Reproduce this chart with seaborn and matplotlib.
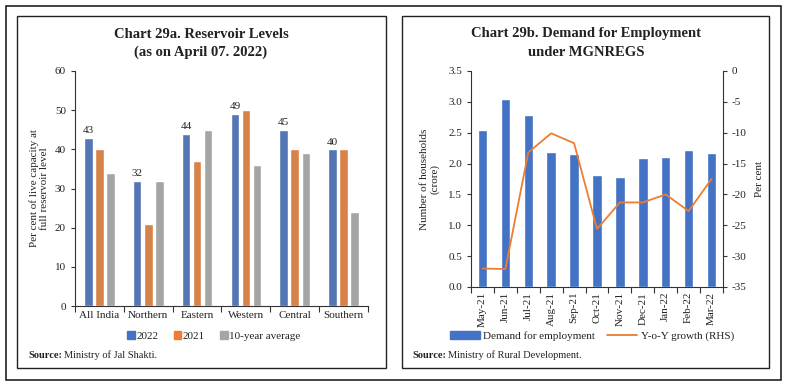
import numpy as np
import pandas as pd
import matplotlib
matplotlib.use("Agg")
import matplotlib.pyplot as plt
from matplotlib.patches import Rectangle, Patch
from matplotlib.lines import Line2D
import seaborn as sns

sns.set_theme(style="ticks")
plt.rcParams['font.family'] = ['Liberation Serif', 'DejaVu Serif']
plt.rcParams['axes.unicode_minus'] = False

# chart 29a data
regions = ["All India", "Northern", "Eastern", "Western", "Central", "Southern"]
lvl_2022 = [43, 32, 44, 49, 45, 40]
lvl_2021 = [40, 21, 37, 50, 40, 40]
lvl_10yr = [34, 32, 45, 36, 39, 24]
series_names = ["2022", "2021", "10-year average"]

# chart 29b data
months = ["May-21", "Jun-21", "Jul-21", "Aug-21", "Sep-21", "Oct-21",
          "Nov-21", "Dec-21", "Jan-22", "Feb-22", "Mar-22"]
demand = [2.55, 3.05, 2.78, 2.19, 2.16, 1.81, 1.79, 2.09, 2.11, 2.22, 2.17]
yoy = [-32.0, -32.1, -13.2, -10.1, -11.7, -25.6, -21.3, -21.3, -20.0, -22.7, -17.5]

BLUE = "#4472C4"
ORANGE = "#ED7D31"
GREY = "#A5A5A5"
TXT = "#222222"

fig = plt.figure(figsize=(7.87, 3.86), dpi=100)
W, H = 787, 386

def fx(px):
    return px / W

def fy(py):
    return 1 - py / H

# frames
fig.patches.append(Rectangle((fx(6), fy(380)), fx(775), (374) / H, transform=fig.transFigure,
                             fill=False, lw=1.2, ec="#222222"))
fig.patches.append(Rectangle((fx(17), fy(368)), fx(369), (352) / H, transform=fig.transFigure,
                             fill=False, lw=1.0, ec="#222222"))
fig.patches.append(Rectangle((fx(402), fy(368)), fx(367), (352) / H, transform=fig.transFigure,
                             fill=False, lw=1.0, ec="#222222"))

# ---- left chart ----
df = pd.DataFrame({
    "region": regions * 3,
    "series": [series_names[0]] * 6 + [series_names[1]] * 6 + [series_names[2]] * 6,
    "value": lvl_2022 + lvl_2021 + lvl_10yr,
})
ax1 = fig.add_axes([fx(75), fy(306), fx(368 - 75), (306 - 71) / H])
sns.barplot(data=df, x="region", y="value", hue="series",
            palette=[BLUE, ORANGE, GREY], width=0.68, gap=0.22,
            legend=False, ax=ax1)
ax1.set_ylim(0, 60)
ax1.set_xlim(-0.5, 5.5)
ax1.set_yticks(range(0, 61, 10))
ax1.set_xlabel("")
ax1.set_ylabel("Per cent of live capacity at\nfull reservoir level", fontsize=8, color=TXT, labelpad=4)
ax1.bar_label(ax1.containers[0], labels=[str(v) for v in lvl_2022], fontsize=8, padding=2, color=TXT)
ax1.set_xticks(np.arange(-0.5, 6, 1), minor=True)
ax1.tick_params(axis="x", which="major", length=0, labelsize=8, colors=TXT)
ax1.tick_params(axis="x", which="minor", length=4, width=0.8, color="#333333")
ax1.tick_params(axis="y", length=3, width=0.8, labelsize=8, colors=TXT, color="#333333")
for s in ["top", "right"]:
    ax1.spines[s].set_visible(False)
for s in ["left", "bottom"]:
    ax1.spines[s].set_color("#333333")
    ax1.spines[s].set_linewidth(0.8)

fig.text(fx(201), fy(34), "Chart 29a. Reservoir Levels", ha="center", va="center",
         fontsize=10.5, fontweight="bold", color=TXT)
fig.text(fx(201), fy(52), "(as on April 07. 2022)", ha="center", va="center",
         fontsize=10.5, fontweight="bold", color=TXT)

h1 = [Patch(color=c) for c in [BLUE, ORANGE, GREY]]
fig.legend(h1, series_names, loc="center", bbox_to_anchor=(fx(214), fy(336)),
           ncol=3, frameon=False, fontsize=8, handlelength=0.65, handleheight=0.65,
           handletextpad=0.15, columnspacing=1.4, labelcolor=TXT)
fig.text(fx(28), fy(355), "Source:", fontsize=7.5, fontweight="bold", va="center", color=TXT)
fig.text(fx(64), fy(355), "Ministry of Jal Shakti.", fontsize=7.5, va="center", color=TXT)

# ---- right chart ----
ax2 = fig.add_axes([fx(471), fy(287), fx(723 - 471), (287 - 71) / H])
sns.barplot(x=months, y=demand, color=BLUE, width=0.41, saturation=1, ax=ax2)
ax2.set_ylim(0, 3.5)
ax2.set_xlim(-0.5, 10.5)
ax2.set_yticks(np.arange(0, 3.51, 0.5))
ax2.set_yticklabels([f"{v:.1f}" for v in np.arange(0, 3.51, 0.5)])
ax2.set_ylabel("Number of households\n(crore)", fontsize=8, color=TXT, labelpad=6)
ax2.set_xticks(np.arange(-0.5, 11, 1), minor=True)
ax2.tick_params(axis="x", which="major", length=0, labelsize=8, colors=TXT, rotation=90)
ax2.tick_params(axis="x", which="minor", length=4, width=0.8, color="#333333")
ax2.tick_params(axis="y", length=3, width=0.8, labelsize=8, colors=TXT, color="#333333")
for s in ["top", "right"]:
    ax2.spines[s].set_visible(False)
for s in ["left", "bottom"]:
    ax2.spines[s].set_color("#333333")
    ax2.spines[s].set_linewidth(0.8)

ax3 = ax2.twinx()
sns.lineplot(x=np.arange(len(months)), y=yoy, color=ORANGE, lw=1.3, ax=ax3)
ax3.set_ylim(-35, 0)
ax3.set_yticks(range(-35, 1, 5))
ax3.set_ylabel("Per cent", fontsize=8, color=TXT, labelpad=6)
ax3.tick_params(axis="y", length=3, width=0.8, labelsize=8, colors=TXT, color="#333333")
for s in ["top", "left", "bottom"]:
    ax3.spines[s].set_visible(False)
ax3.spines["right"].set_color("#333333")
ax3.spines["right"].set_linewidth(0.8)
ax3.set_xlim(-0.5, 10.5)

fig.text(fx(586), fy(34), "Chart 29b. Demand for Employment", ha="center", va="center",
         fontsize=10.5, fontweight="bold", color=TXT)
fig.text(fx(586), fy(52), "under MGNREGS", ha="center", va="center",
         fontsize=10.5, fontweight="bold", color=TXT)

h2 = [Patch(color=BLUE), Line2D([0], [0], color=ORANGE, lw=1.3)]
fig.legend(h2, ["Demand for employment", "Y-o-Y growth (RHS)"], loc="center",
           bbox_to_anchor=(fx(592), fy(336)), ncol=2, frameon=False, fontsize=8,
           handlelength=2.7, handleheight=0.7, handletextpad=0.3, columnspacing=1.1,
           labelcolor=TXT)
fig.text(fx(412), fy(355), "Source:", fontsize=7.5, fontweight="bold", va="center", color=TXT)
fig.text(fx(448), fy(355), "Ministry of Rural Development.", fontsize=7.5, va="center", color=TXT)

fig.savefig("out.png", dpi=100)
